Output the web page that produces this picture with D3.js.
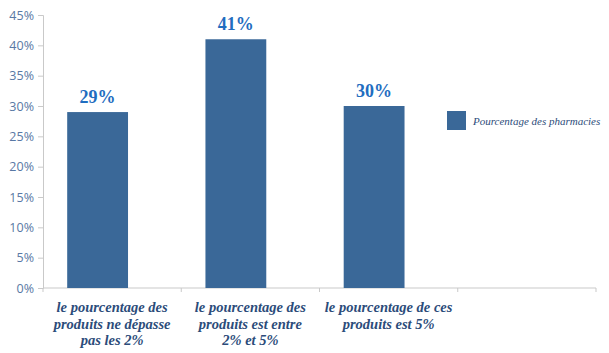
<!DOCTYPE html>
<html>
<head>
<meta charset="utf-8">
<script src="https://cdn.jsdelivr.net/npm/d3@7"></script>
<style>
  body { margin: 0; background: #fff; }
  .serif { font-family: 'Liberation Serif', serif; }
</style>
</head>
<body>
<div class="chart"></div>
<script>
// data
var categories = [
  ["le pourcentage des", "produits ne dépasse", "pas les 2%"],
  ["le pourcentage des", "produits est entre", "2% et 5%"],
  ["le pourcentage de ces", "produits est 5%"],
  []
];
var values = [29, 41, 30, null];
var seriesName = "Pourcentage des pharmacies";
var yTicks = [0, 5, 10, 15, 20, 25, 30, 35, 40, 45];

var W = 609, H = 353;
var margin = {top: 15, right: 13, bottom: 65, left: 43};
var w = W - margin.left - margin.right,
    h = H - margin.top - margin.bottom;

var barColor = "#3a6898";

var svg = d3.select(".chart").append("svg")
  .attr("width", W)
  .attr("height", H)
  .append("g")
  .attr("transform", "translate(" + margin.left + "," + margin.top + ")");

var ids = categories.map(function(d, i) { return i; });

var x = d3.scaleBand()
  .domain(ids)
  .range([0, w]);

var y = d3.scaleLinear()
  .domain([0, 45])
  .range([h, 0]);

// y axis
var yAxis = svg.append("g")
  .call(d3.axisLeft(y).tickValues(yTicks).tickSize(5).tickPadding(4)
    .tickFormat(function(d) { return d + "%"; }));
yAxis.selectAll("line, path").attr("stroke", "#c9c9c9");
yAxis.selectAll("text")
  .attr("fill", "#5878a4")
  .style("font-family", "'Open Sans', sans-serif")
  .style("font-size", "12.5px");

// x axis: ticks at band edges
var xAxis = svg.append("g")
  .attr("transform", "translate(0," + h + ")");
xAxis.append("line")
  .attr("x1", 0).attr("x2", w)
  .attr("stroke", "#c9c9c9");
xAxis.selectAll(".edge")
  .data(ids.concat([ids.length]))
  .enter().append("line")
  .attr("class", "edge")
  .attr("x1", function(d) { return d * x.bandwidth(); })
  .attr("x2", function(d) { return d * x.bandwidth(); })
  .attr("y1", 0).attr("y2", 4)
  .attr("stroke", "#c9c9c9");

// category labels
var cat = xAxis.selectAll(".cat")
  .data(categories)
  .enter().append("text")
  .attr("class", "cat serif")
  .attr("text-anchor", "middle")
  .attr("fill", "#2c4c7a")
  .style("font-style", "italic")
  .style("font-weight", "bold")
  .style("font-size", "14.5px");
cat.each(function(lines, i) {
  var t = d3.select(this);
  lines.forEach(function(l, k) {
    t.append("tspan")
      .attr("x", x(i) + x.bandwidth() / 2)
      .attr("y", 24 + k * 16.5)
      .text(l);
  });
});

// bars (sit left of the band centre, as in the original)
var barW = x.bandwidth() * 0.44;
var barOff = x.bandwidth() * 0.175;
var data = values.map(function(v, i) { return {i: i, v: v}; })
  .filter(function(d) { return d.v != null; });

svg.selectAll(".bar")
  .data(data)
  .enter().append("rect")
  .attr("class", "bar")
  .attr("x", function(d) { return x(d.i) + barOff; })
  .attr("width", barW)
  .attr("y", function(d) { return y(d.v); })
  .attr("height", function(d) { return h - y(d.v); })
  .attr("fill", barColor);

svg.selectAll(".lbl")
  .data(data)
  .enter().append("text")
  .attr("class", "lbl serif")
  .attr("x", function(d) { return x(d.i) + barOff + barW / 2; })
  .attr("y", function(d) { return y(d.v) - 9; })
  .attr("text-anchor", "middle")
  .attr("fill", "#1f6dc0")
  .style("font-weight", "bold")
  .style("font-size", "18px")
  .text(function(d) { return d.v + "%"; });

// legend
var lg = svg.append("g")
  .attr("transform", "translate(" + (w - 149) + "," + (y(30) + 5) + ")");
lg.append("rect")
  .attr("width", 19).attr("height", 19)
  .attr("fill", barColor);
lg.append("text")
  .attr("class", "serif")
  .attr("x", 26).attr("y", 14)
  .attr("fill", "#2c4c7a")
  .style("font-style", "italic")
  .style("font-size", "11px")
  .text(seriesName);
</script>
</body>
</html>
